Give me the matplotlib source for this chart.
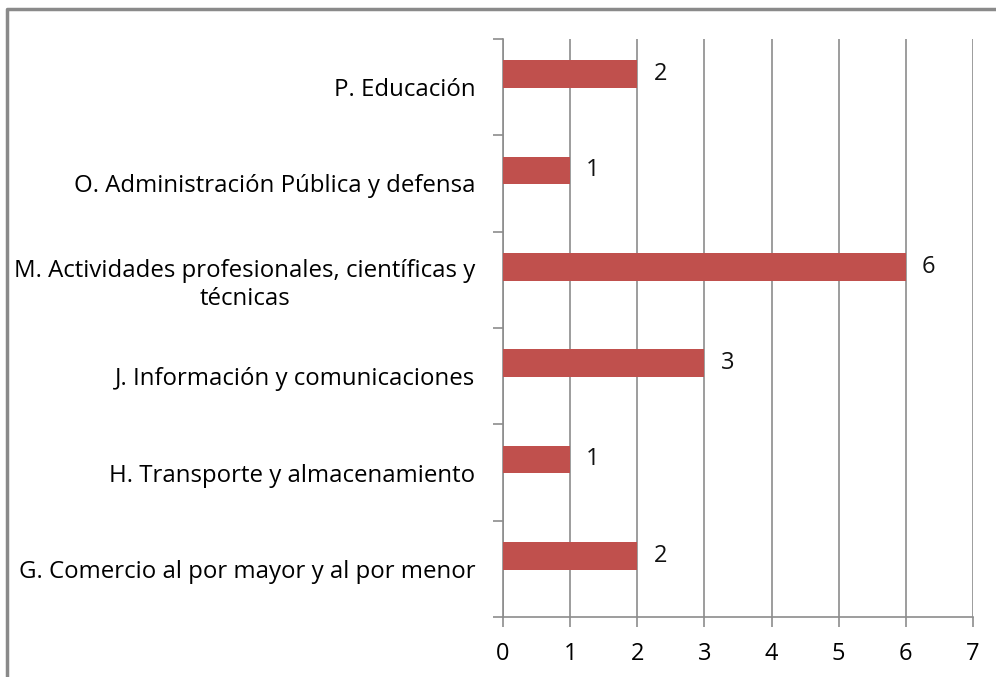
import matplotlib.pyplot as plt
from matplotlib.lines import Line2D

categories = ["G. Comercio al por mayor y al por menor",
              "H. Transporte y almacenamiento",
              "J. Información y comunicaciones",
              "M. Actividades profesionales, científicas y\ntécnicas",
              "O. Administración Pública y defensa",
              "P. Educación"]
values = [2, 1, 3, 6, 1, 2]
xticks = [0, 1, 2, 3, 4, 5, 6, 7]

plt.rcParams["font.family"] = ["Open Sans", "DejaVu Sans"]

fig = plt.figure(figsize=(9.96, 6.77), dpi=100)
ax = fig.add_axes([503 / 996, 1 - 617 / 677, 470 / 996, 578 / 677])

pos = list(range(len(categories)))
bar_pos = [p + 0.135 for p in pos]
ax.barh(bar_pos, values, height=0.29, color="#C0504D", zorder=3)
for y, v in zip(bar_pos, values):
    ax.text(v + 0.24, y, str(v), va="center", ha="left", fontsize=17, color="#111111")

ax.set_xlim(0, 7)
ax.set_ylim(-0.5, len(categories) - 0.5)
ax.set_xticks(xticks)
ax.set_yticks(pos)
ax.set_yticklabels(categories, fontsize=17.3, multialignment="center", linespacing=1.25)
ax.set_yticks([p - 0.5 for p in pos] + [len(pos) - 0.5], minor=True)
ax.tick_params(axis="y", which="major", length=0, pad=20)
ax.tick_params(axis="y", which="minor", length=7, color="#8c8c8c", width=1.2, direction="out")
ax.tick_params(axis="x", length=7, color="#8c8c8c", width=1.2, labelsize=17, pad=11)

ax.grid(axis="x", color="#8c8c8c", linewidth=1.2, zorder=0)
for side in ["top", "right"]:
    ax.spines[side].set_visible(False)
for side in ["left", "bottom"]:
    ax.spines[side].set_color("#8c8c8c")
    ax.spines[side].set_linewidth(1.2)

# outer chart frame (cropped at right and bottom)
fig.add_artist(Line2D([7 / 996, 7 / 996, 1.0], [0.0, 1 - 9 / 677, 1 - 9 / 677],
                      transform=fig.transFigure, color="#8a8a8a", linewidth=2.5))

fig.savefig("out.png", dpi=100)
